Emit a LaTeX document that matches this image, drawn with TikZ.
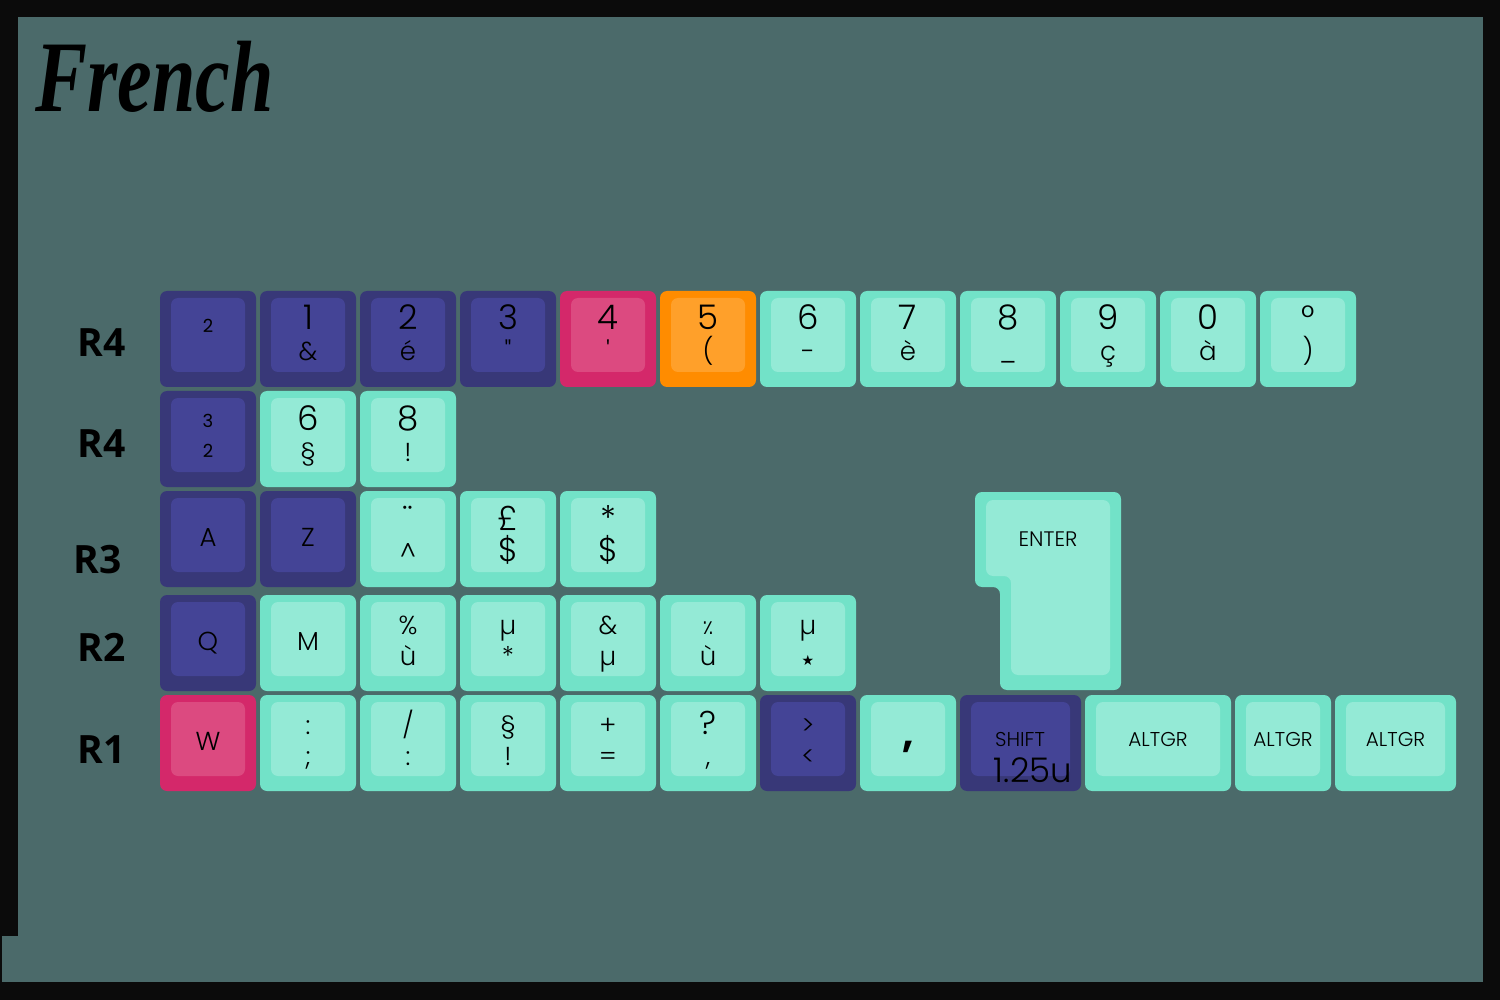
\documentclass[tikz,border=0pt]{standalone}
\usepackage{fontspec}
\newfontfamily\keyfont{Poppins}[UprightFont=* Light, Ligatures=TeXOff]
\newfontfamily\commafont{Poppins}[Ligatures=TeXOff]
\newfontfamily\rowfont{Open Sans}
\newfontfamily\titlefont{Liberation Serif}
\newfontfamily\symfont{DejaVu Sans}
\definecolor{frame}{HTML}{0B0B0B}
\definecolor{panel}{HTML}{4B6A6A}
\definecolor{kpurpleout}{HTML}{383878}
\definecolor{kpurplein}{HTML}{444496}
\definecolor{kmintout}{HTML}{72E2C8}
\definecolor{kmintin}{HTML}{94EAD6}
\definecolor{kpinkout}{HTML}{D4286A}
\definecolor{kpinkin}{HTML}{DC4A80}
\definecolor{korangeout}{HTML}{FF8C00}
\definecolor{korangein}{HTML}{FFA02A}
\tikzset{
  legend/.style={font=\keyfont\fontsize{26}{26}\selectfont, inner sep=0pt, anchor=base},
  numlegend/.style={legend, font=\keyfont\fontsize{34}{34}\selectfont},
  smalllegend/.style={legend, font=\commafont\fontsize{18}{18}\selectfont},
  wordlegend/.style={legend, font=\keyfont\fontsize{20}{20}\selectfont},
  rowlabel/.style={font=\rowfont\bfseries\fontsize{39}{39}\selectfont, inner sep=0pt, anchor=base},
}
\newcommand{\biglegend}[1]{{\fontsize{33}{33}\selectfont #1}}
% cap body: left x, top y, width in units, colour
\newcommand{\keycap}[4]{%
  \fill[#4out, rounded corners=7] (#1,#2) rectangle ++({100*#3-4},96);
  \fill[#4in, rounded corners=7] ({#1+11},{#2+7}) rectangle ({#1+100*#3-15},{#2+81});
}
% legends: name, centre x, top y, style of top legend, top, bottom
\newcommand{\keylegends}[6]{%
  \if\relax\detokenize\expandafter{#6}\relax
    \node[legend] (#1) at (#2,{#3+55}) {#5};
  \else
    \node[#4] (#1-top) at (#2,{#3+39}) {#5};
    \node[legend] (#1-bot) at (#2,{#3+70}) {#6};
  \fi
}

\begin{document}
\begin{tikzpicture}[x=1pt,y=-1pt]
  \useasboundingbox (0,0) rectangle (1500,1000);
  \fill[frame] (0,0) rectangle (1500,1000);
  \fill[panel] (18,17) rectangle (1483,982);
  \fill[panel] (2,936) rectangle (18,982);

  \node[font=\titlefont\bfseries\itshape\fontsize{78}{78}\selectfont, inner sep=0pt, anchor=base west] (title) at (35,112) {\scalebox{1}[1.3]{French}};

  % row labels
  \node[rowlabel] (labelfour) at (102,357) {R4};
  \node[rowlabel] (labelfourb) at (102,457) {R4};
  \node[rowlabel] (labelthree) at (98,573) {R3};
  \node[rowlabel] (labeltwo) at (102,661) {R2};
  \node[rowlabel] (labelone) at (102,763) {R1};

  % number row
  \keycap{160}{291}{1}{kpurple}
  \node[smalllegend] (r4k0) at (208,333) {2};
  \foreach \c/\t/\b [count=\i] in {kpurple/1/\&, kpurple/2/é, kpurple/3/", kpink/4/', korange/5/(,
      kmint/6/-, kmint/7/è, kmint/8/\_, kmint/9/ç, kmint/0/à, kmint/°/)} {
    \keycap{160+100*\i}{291}{1}{\c}
    \keylegends{r4k\i}{208+100*\i}{291}{numlegend}{\t}{\b}
  }

  % second number row
  \keycap{160}{391}{1}{kpurple}
  \node[smalllegend] (r4bk0-top) at (208,427) {3};
  \node[smalllegend] (r4bk0-bot) at (208,457) {2};
  \foreach \t/\b [count=\i] in {6/§, 8/!} {
    \keycap{160+100*\i}{391}{1}{kmint}
    \keylegends{r4bk\i}{208+100*\i}{391}{numlegend}{\t}{\b}
  }

  % R3
  \foreach \c/\t/\b [count=\i from 0] in {kpurple/A/{}, kpurple/Z/{}, kmint/¨/\textasciicircum,
      kmint/£/\biglegend{\$}, kmint/*/\biglegend{\$}} {
    \keycap{160+100*\i}{491}{1}{\c}
    \keylegends{r3k\i}{208+100*\i}{491}{numlegend}{\t}{\b}
  }

  % R2
  \foreach \c/\t/\b [count=\i from 0] in {kpurple/Q/{}, kmint/M/{}, kmint/\%/ù, kmint/µ/*, kmint/\&/µ,
      kmint/{\symfont\fontsize{20}{20}\selectfont ٪}/ù, kmint/µ/{\symfont\fontsize{14}{14}\selectfont ★}} {
    \keycap{160+100*\i}{595}{1}{\c}
    \keylegends{r2k\i}{208+100*\i}{595}{legend}{\t}{\b}
  }

  % R1
  \foreach \c/\t/\b [count=\i from 0] in {kpink/W/{}, kmint/:/;, kmint/{/}/:, kmint/§/!, kmint/+/=,
      kmint/\biglegend{?}/{,}, kpurple/>/<} {
    \keycap{160+100*\i}{695}{1}{\c}
    \keylegends{r1k\i}{208+100*\i}{695}{legend}{\t}{\b}
  }
  \keycap{860}{695}{1}{kmint}
  \node[legend, font=\commafont\bfseries\fontsize{40}{40}\selectfont] (r1k7) at (908,747) {,};
  \keycap{960}{695}{1.25}{kpurple}
  \node[wordlegend] (shift) at (1020,746) {SHIFT};
  \node[numlegend] (shiftsize) at (1033,782) {1.25u};
  \foreach \x/\w [count=\i] in {1085/1.5, 1235/1, 1335/1.25} {
    \keycap{\x}{695}{\w}{kmint}
    \node[wordlegend] (altgr\i) at ({\x+50*\w-2},746) {ALTGR};
  }

  % ISO enter
  \fill[kmintout, rounded corners=7] (975,492) -- (1121,492) -- (1121,690) -- (1000,690)
    -- (1000,587) -- (975,587) -- cycle;
  \fill[kmintin, rounded corners=7] (986,500) -- (1110,500) -- (1110,675) -- (1011,675)
    -- (1011,576) -- (986,576) -- cycle;
  \node[wordlegend, font=\keyfont\fontsize{21}{21}\selectfont] (enter) at (1048,546) {ENTER};
\end{tikzpicture}
\end{document}
